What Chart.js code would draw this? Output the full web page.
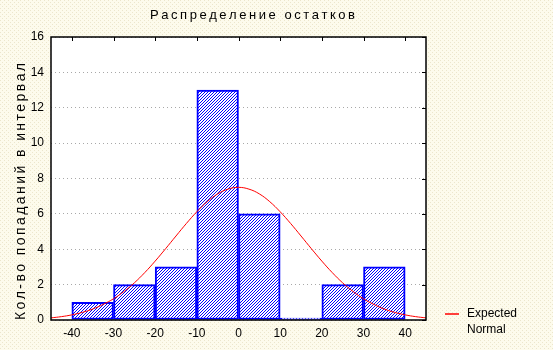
<!DOCTYPE html>
<html>
<head>
<meta charset="utf-8">
<script src="https://cdn.jsdelivr.net/npm/chart.js@4/dist/chart.umd.min.js"></script>
<style>
  body { margin: 0; background: #fcfaea; }
  #resChart { display: block; }
</style>
</head>
<body>
<canvas id="resChart" width="553" height="350"></canvas>
<script>

// histogram bins (centres) and counts
var binCenters = [-35, -25, -15, -5, 5, 15, 25, 35];
var counts = [1, 2, 3, 13, 6, 0, 2, 3];

// expected normal curve
var curveX = [-45, -42.5, -40, -37.5, -35, -32.5, -30, -27.5, -25, -22.5, -20, -17.5, -15, -12.5, -10, -7.5, -5, -2.5,
              0, 2.5, 5, 7.5, 10, 12.5, 15, 17.5, 20, 22.5, 25, 27.5, 30, 32.5, 35, 37.5, 40, 42.5, 45];
var curveY = [0.12, 0.19, 0.29, 0.43, 0.62, 0.88, 1.2, 1.61, 2.1, 2.68, 3.33, 4.03, 4.75, 5.46, 6.12, 6.69, 7.13, 7.4,
              7.5, 7.4, 7.13, 6.69, 6.12, 5.46, 4.75, 4.03, 3.33, 2.68, 2.1, 1.61, 1.2, 0.88, 0.62, 0.43, 0.29, 0.19, 0.12];

var xTicks = [-40, -30, -20, -10, 0, 10, 20, 30, 40];
var yTicks = [0, 2, 4, 6, 8, 10, 12, 14, 16];

var chartTitle = 'Распределение остатков';
var yTitle = 'Кол-во попаданий в интервал';
var legendText = ['Expected', 'Normal'];

var FONT = "'Liberation Sans', Arial, sans-serif";

function hatch(){
  var c = document.createElement('canvas');
  c.width = 3; c.height = 3;
  var g = c.getContext('2d');
  g.fillStyle = '#ffffff';
  g.fillRect(0, 0, 3, 3);
  g.fillStyle = '#0000ff';
  g.fillRect(0, 2, 1, 1);
  g.fillRect(1, 1, 1, 1);
  g.fillRect(2, 0, 1, 1);
  return g.createPattern(c, 'repeat');
}

function dots(ctx){
  var c = document.createElement('canvas');
  c.width = 4; c.height = 4;
  var g = c.getContext('2d');
  g.fillStyle = '#fdfbec';
  g.fillRect(0, 0, 4, 4);
  g.fillStyle = '#ece6cc';
  g.fillRect(0, 0, 1, 1);
  g.fillRect(2, 2, 1, 1);
  return ctx.createPattern(c, 'repeat');
}

// draws text char by char so it spans a given length
function spacedText(ctx, text, x, y, length){
  var w = 0;
  for (var i = 0; i < text.length; i++) w += ctx.measureText(text[i]).width;
  var gap = (length - w) / (text.length - 1);
  for (var j = 0; j < text.length; j++){
    ctx.fillText(text[j], x, y);
    x += ctx.measureText(text[j]).width + gap;
  }
}

var decor = {
  id: 'decor',
  beforeDraw: function(chart){
    var ctx = chart.ctx, a = chart.chartArea;
    ctx.save();
    ctx.fillStyle = dots(ctx);
    ctx.fillRect(0, 0, chart.width, chart.height);
    ctx.fillStyle = '#ffffff';
    ctx.fillRect(a.left, a.top, a.right - a.left, a.bottom - a.top);
    ctx.restore();
  },
  afterDraw: function(chart){
    var ctx = chart.ctx, a = chart.chartArea;
    var xs = chart.scales.x, ys = chart.scales.y;
    ctx.save();
    ctx.strokeStyle = '#000';
    ctx.lineWidth = 1.5;
    ctx.strokeRect(a.left, a.top, a.right - a.left, a.bottom - a.top);

    // small inward ticks on top and right
    ctx.lineWidth = 1;
    ctx.beginPath();
    xTicks.forEach(function(v){
      var px = Math.round(xs.getPixelForValue(v)) + 0.5;
      ctx.moveTo(px, a.top); ctx.lineTo(px, a.top + 4);
    });
    yTicks.forEach(function(v){
      var py = Math.round(ys.getPixelForValue(v)) + 0.5;
      ctx.moveTo(a.right, py); ctx.lineTo(a.right - 4, py);
    });
    ctx.stroke();

    // titles
    ctx.fillStyle = '#000';
    ctx.textBaseline = 'middle';
    ctx.textAlign = 'left';
    ctx.font = '13px ' + FONT;
    spacedText(ctx, chartTitle, 150, 15, 205);

    ctx.font = '14px ' + FONT;
    ctx.translate(21, 320);
    ctx.rotate(-Math.PI / 2);
    spacedText(ctx, yTitle, 0, 0, 257);
    ctx.setTransform(1, 0, 0, 1, 0, 0);

    // legend
    ctx.strokeStyle = '#ff0000';
    ctx.lineWidth = 1.5;
    ctx.beginPath();
    ctx.moveTo(445, 314); ctx.lineTo(459, 314);
    ctx.stroke();
    ctx.font = '12px ' + FONT;
    ctx.fillText(legendText[0], 467, 314);
    ctx.fillText(legendText[1], 467, 330);
    ctx.restore();
  }
};

function drawChart(){
  var ctx = document.getElementById('resChart').getContext('2d');

  var chart = new Chart(ctx, {
    type: 'bar',
    data: {
      datasets: [{
        type: 'line',
        label: 'Expected Normal',
        data: curveX.map(function(x, i){ return {x: x, y: curveY[i]}; }),
        borderColor: '#ff0000',
        borderWidth: 1,
        pointRadius: 0,
        tension: 0.4,
        fill: false,
        order: 0
      }, {
        type: 'bar',
        label: 'Остатки',
        data: binCenters.map(function(x, i){ return {x: x, y: counts[i]}; }),
        backgroundColor: hatch(),
        borderColor: '#0000ff',
        borderWidth: 2,
        borderSkipped: false,
        minBarLength: 2,
        barPercentage: 1,
        categoryPercentage: 1,
        order: 1
      }]
    },
    options: {
      responsive: false,
      animation: false,
      devicePixelRatio: 1,
      layout: { padding: { top: 37, right: 127, left: 0, bottom: 0 } },
      plugins: {
        legend: { display: false },
        title: { display: false },
        tooltip: { enabled: false }
      },
      scales: {
        x: {
          type: 'linear',
          offset: false,
          min: -45,
          max: 45,
          afterFit: function(s){ s.height = 30; },
          afterBuildTicks: function(s){ s.ticks = xTicks.map(function(v){ return {value: v}; }); },
          grid: { display: false, drawTicks: false },
          border: { display: false },
          ticks: { padding: 6, color: '#000', font: { family: FONT, size: 12 }, maxRotation: 0 }
        },
        y: {
          min: 0,
          max: 16,
          afterFit: function(s){ s.width = 51; },
          afterBuildTicks: function(s){ s.ticks = yTicks.map(function(v){ return {value: v}; }); },
          grid: { color: '#a8a8a8', lineWidth: 1, drawTicks: false },
          border: { display: false, dash: [1, 3] },
          ticks: { padding: 7, color: '#000', font: { family: FONT, size: 12 } }
        }
      }
    },
    plugins: [decor]
  });
}

drawChart();
</script>
</body>
</html>
